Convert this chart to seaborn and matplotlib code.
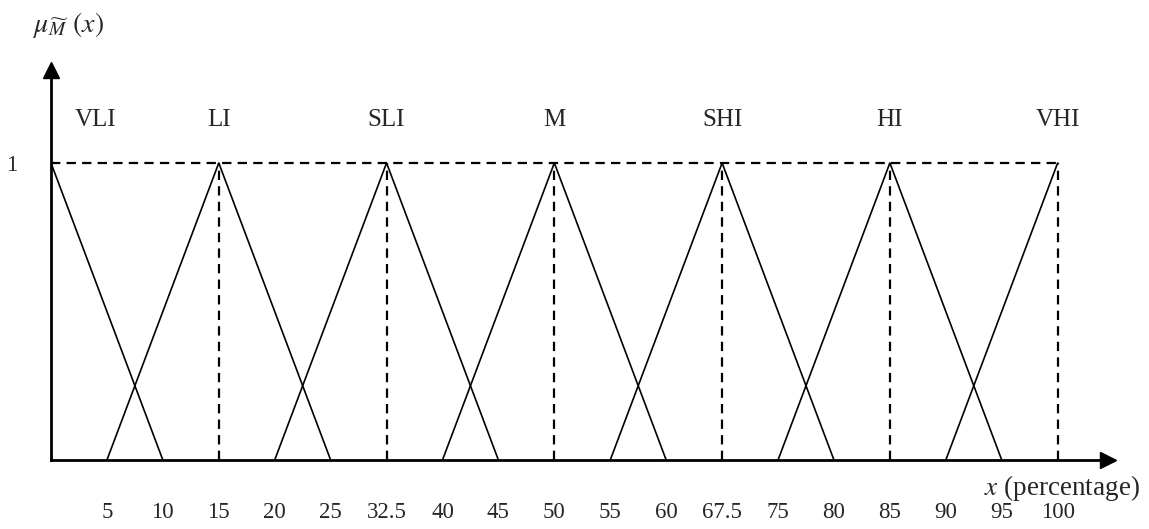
import numpy as np
import pandas as pd
import matplotlib
matplotlib.use("Agg")
import matplotlib.pyplot as plt
import seaborn as sns

# Linguistic terms and their triangular fuzzy numbers (lower, mode, upper)
terms = ["VLI", "LI", "SLI", "M", "SHI", "HI", "VHI"]
lower = [0, 5, 20, 40, 55, 75, 90]
mode = [0, 15, 32.5, 50, 67.5, 85, 100]
upper = [10, 25, 45, 60, 80, 95, 100]

# Axis tick values (percentage)
tick_values = [5, 10, 15, 20, 25, 32.5, 40, 45, 50, 55, 60, 67.5, 75, 80, 85, 90, 95, 100]
tick_labels = ["5", "10", "15", "20", "25", "32.5", "40", "45", "50", "55", "60",
               "67.5", "75", "80", "85", "90", "95", "100"]

sns.set_style("white")
plt.rcParams["font.family"] = ["Liberation Serif", "DejaVu Serif"]
plt.rcParams["mathtext.fontset"] = "stix"

# Long-format table of the triangle vertices
rows = []
for t, a, b, c in zip(terms, lower, mode, upper):
    for x, mu in ((a, 0.0 if a != b else 1.0), (b, 1.0), (c, 0.0 if c != b else 1.0)):
        rows.append({"term": t, "x": x, "mu": mu})
df = pd.DataFrame(rows)

# Ordinal-style scale: each breakpoint gets an equal share of the axis
bp = np.array([0.0] + list(tick_values))
idx = np.arange(len(bp), dtype=float)


def fwd(v):
    v = np.asarray(v, dtype=float)
    out = np.interp(v, bp, idx)
    out = np.where(v > bp[-1], idx[-1] + (v - bp[-1]) / 5.0, out)
    out = np.where(v < bp[0], (v - bp[0]) / 5.0, out)
    return out


def inv(p):
    p = np.asarray(p, dtype=float)
    out = np.interp(p, idx, bp)
    out = np.where(p > idx[-1], bp[-1] + (p - idx[-1]) * 5.0, out)
    out = np.where(p < idx[0], bp[0] + p * 5.0, out)
    return out


W, H = 1149, 529
fig = plt.figure(figsize=(W / 100, H / 100), dpi=100)
ax = fig.add_axes([51 / W, (H - 460) / H, (1108 - 51) / W, (460 - 70) / H])
ax.set_xscale("function", functions=(fwd, inv))
ax.set_xlim(0, 104.5)
ax.set_ylim(0, 1.313)

# Membership functions
sns.lineplot(data=df, x="x", y="mu", units="term", estimator=None, sort=False,
             color="black", linewidth=1.2, ax=ax, legend=False)

# Dashed guides: the height-one line and the modal values
dash = (0, (4.2, 2.8))
ax.plot([0, max(mode)], [1, 1], color="black", lw=1.6, ls=dash)
for b in mode:
    if b > 0:
        ax.plot([b, b], [0, 1], color="black", lw=1.6, ls=dash)

# Term labels above each peak
for t, b in zip(terms, mode):
    dx = 32 if b == 0 else 0
    ax.annotate(t, xy=(b, 1.145), xytext=(dx, 0), textcoords="offset points",
                ha="center", va="center", fontsize=18)

# Axes with arrow heads
sns.despine(ax=ax)
for side in ("left", "bottom"):
    ax.spines[side].set_linewidth(2)
    ax.spines[side].set_color("black")
ax.plot(1, 0, ">", color="black", ms=12, transform=ax.transAxes, clip_on=False)
ax.plot(0, 1, "^", color="black", ms=12, transform=ax.transAxes, clip_on=False)

ax.set_xticks(tick_values)
ax.set_xticklabels(tick_labels)
ax.set_yticks([1])
ax.set_yticklabels(["1"])
ax.tick_params(axis="x", length=0, pad=30, labelsize=16.5)
ax.tick_params(axis="y", length=0, pad=24, labelsize=16.5)
ax.set_xlabel("")
ax.set_ylabel("")

fig.text(1140 / W, 1 - 488 / H, "$x$ (percentage)", ha="right", va="center", fontsize=19.5)
fig.text(33 / W, 1 - 25 / H, r"$\mu_{\widetilde{M}}\ (x)$", ha="left", va="center", fontsize=20)

fig.savefig("out.png", dpi=100)
